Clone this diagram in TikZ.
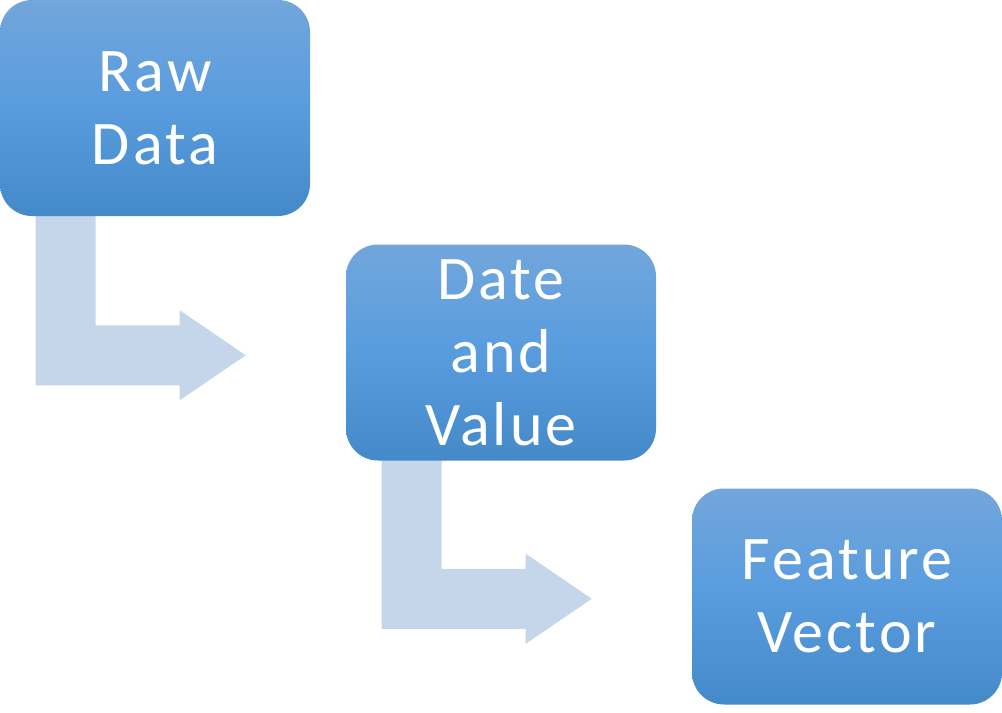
\documentclass[tikz,border=0pt]{standalone}
\usepackage{fontspec}
\setmainfont{Carlito}[LetterSpace=5]
\usetikzlibrary{backgrounds}
\definecolor{boxtop}{RGB}{114,166,220}
\definecolor{boxmid}{RGB}{88,156,222}
\definecolor{boxbot}{RGB}{68,137,200}
\definecolor{arrowfill}{RGB}{197,213,234}
\begin{document}
\begin{tikzpicture}[x=0.75pt,y=-0.75pt,
  box/.style={rounded corners=24pt, top color=boxtop, bottom color=boxbot, middle color=boxmid,
    minimum width=232.5pt, minimum height=162pt, text=white, align=center,
    font=\fontsize{46.5}{54.75}\selectfont, inner sep=0pt},
  bent/.style={fill=arrowfill, draw=none}]
\useasboundingbox (0,0) rectangle (1002,713);
\node[box] (raw) at (155,108) {Raw\\Data};
\node[box] (dv) at (501,352.5) {Date\\and\\Value};
\node[box] (fv) at (847,596.5) {Feature\\Vector};
\begin{pgfonlayer}{background}
\begin{scope}[shift={(raw.south west)}]
  \fill[bent] (36,-20) -- (96,-20) -- (96,109) -- (180,109) -- (180,94) -- (246,139)
    -- (180,184) -- (180,169) -- (36,169) -- cycle;
\end{scope}
\begin{scope}[shift={(dv.south west)}]
  \fill[bent] (36,-20) -- (96,-20) -- (96,108) -- (180,108) -- (180,93) -- (246,138)
    -- (180,183) -- (180,168) -- (36,168) -- cycle;
\end{scope}
\end{pgfonlayer}
\end{tikzpicture}
\end{document}
